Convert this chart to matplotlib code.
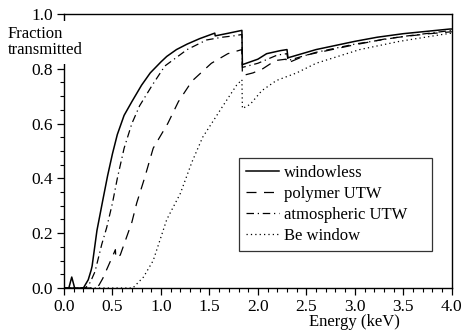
import matplotlib
matplotlib.use("Agg")
import matplotlib.pyplot as plt
from matplotlib.ticker import MultipleLocator, FormatStrFormatter

plt.rcParams['font.family'] = ['Liberation Serif', 'DejaVu Serif']

# Windowless detector
e_windowless = [0.0, 0.05, 0.08, 0.11, 0.20, 0.25, 0.28, 0.29, 0.34, 0.40, 0.45, 0.50,
                0.55, 0.62, 0.70, 0.80, 0.89, 1.00, 1.06, 1.16, 1.27, 1.40, 1.555, 1.56,
                1.70, 1.835, 1.84, 2.00, 2.09, 2.23, 2.30, 2.31, 2.60, 3.00, 3.23, 3.50, 3.98, 4.0]
t_windowless = [0.0, 0.0, 0.04, 0.0, 0.0, 0.03, 0.065, 0.08, 0.21, 0.32, 0.41, 0.49,
                0.56, 0.63, 0.68, 0.74, 0.785, 0.825, 0.845, 0.87, 0.89, 0.91, 0.93, 0.92,
                0.93, 0.94, 0.815, 0.835, 0.855, 0.866, 0.87, 0.84, 0.87, 0.90, 0.915, 0.928, 0.945, 0.945]

# Polymer UTW
e_polymer = [0.0, 0.32, 0.36, 0.40, 0.45, 0.50, 0.53, 0.535, 0.58, 0.63, 0.70, 0.75,
             0.83, 0.92, 1.07, 1.18, 1.32, 1.52, 1.69, 1.835, 1.84, 1.95, 2.05, 2.18,
             2.29, 2.30, 2.50, 2.95, 3.33, 3.74, 4.0]
t_polymer = [0.0, 0.0, 0.01, 0.035, 0.075, 0.115, 0.14, 0.11, 0.12, 0.17, 0.24, 0.31,
             0.40, 0.51, 0.60, 0.68, 0.755, 0.82, 0.855, 0.87, 0.775, 0.785, 0.80, 0.83,
             0.835, 0.82, 0.85, 0.884, 0.91, 0.927, 0.935]

# Atmospheric UTW
e_atmos = [0.0, 0.22, 0.27, 0.32, 0.39, 0.44, 0.50, 0.55, 0.62, 0.70, 0.78, 0.91, 1.04,
           1.27, 1.47, 1.63, 1.75, 1.835, 1.84, 2.00, 2.20, 2.30, 2.31, 2.60, 3.00,
           3.50, 4.0]
t_atmos = [0.0, 0.0, 0.02, 0.06, 0.16, 0.22, 0.31, 0.40, 0.51, 0.60, 0.665, 0.74, 0.81,
           0.87, 0.905, 0.915, 0.92, 0.925, 0.805, 0.82, 0.85, 0.855, 0.83, 0.86, 0.89,
           0.918, 0.94]

# Be window
e_be = [0.0, 0.71, 0.82, 0.92, 1.06, 1.20, 1.32, 1.43, 1.54, 1.64, 1.78, 1.835,
        1.84, 1.92, 2.04, 2.19, 2.40, 2.60, 3.05, 3.46, 3.90, 4.0]
t_be = [0.0, 0.0, 0.04, 0.10, 0.25, 0.345, 0.46, 0.55, 0.61, 0.665, 0.74, 0.76,
        0.655, 0.67, 0.72, 0.757, 0.785, 0.82, 0.87, 0.90, 0.925, 0.93]

labels = ["windowless", "polymer UTW", "atmospheric UTW", "Be window"]

fig = plt.figure(figsize=(4.62, 3.32), dpi=100)
ax = fig.add_axes([0.1385, 0.1325, 0.8395, 0.8255])

ax.plot(e_windowless, t_windowless, color='black', lw=1.1, ls='-', label=labels[0])
ax.plot(e_polymer, t_polymer, color='black', lw=0.9, ls=(0, (8, 6)), label=labels[1])
ax.plot(e_atmos, t_atmos, color='black', lw=0.9, ls=(0, (6, 3, 1, 3)), label=labels[2])
ax.plot(e_be, t_be, color='black', lw=0.9, ls=(0, (1, 2.5)), label=labels[3])

ax.set_xlim(0, 4.0)
ax.set_ylim(0, 1.0)
ax.xaxis.set_major_locator(MultipleLocator(0.5))
ax.xaxis.set_minor_locator(MultipleLocator(0.1))
ax.yaxis.set_major_locator(MultipleLocator(0.2))
ax.yaxis.set_minor_locator(MultipleLocator(0.05))
ax.tick_params(axis='both', which='major', direction='out', length=5, width=0.9,
               labelsize=12.5, colors='black')
ax.tick_params(axis='both', which='minor', direction='out', length=3, width=0.8)
ax.tick_params(axis='x', which='major', pad=3)
ax.tick_params(axis='y', which='major', pad=3)
ax.xaxis.set_major_formatter(FormatStrFormatter('%.1f'))
ax.yaxis.set_major_formatter(FormatStrFormatter('%.1f'))
for s in ax.spines.values():
    s.set_linewidth(1.0)

ax.set_xlabel("Energy (keV)", fontsize=12)
ax.xaxis.set_label_coords(0.748, -0.095)
fig.text(8 / 462, 1 - 42 / 332, "Fraction\ntransmitted", fontsize=12,
         ha='left', va='center', linespacing=1.0, zorder=5,
         bbox=dict(facecolor='white', edgecolor='none', pad=4))

leg = ax.legend(loc='upper left', bbox_to_anchor=(0.451, 0.135, 0.497, 0.338),
                mode='expand', fontsize=12,
                frameon=True, fancybox=False, edgecolor='black', handlelength=2.0,
                handletextpad=0.3, borderpad=0.4, labelspacing=0.3, borderaxespad=0)
leg.get_frame().set_linewidth(0.9)

fig.savefig("out.png", dpi=100)
